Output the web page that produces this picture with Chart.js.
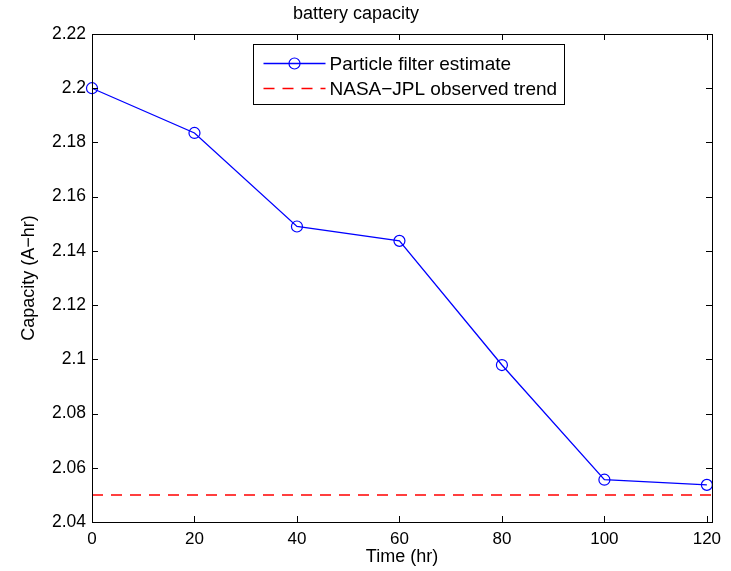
<!DOCTYPE html>
<html>
<head>
<meta charset="utf-8">
<script src="https://cdn.jsdelivr.net/npm/chart.js@4/dist/chart.umd.min.js"></script>
<style>
  html, body { margin: 0; padding: 0; background: #fff; }
  #wrap { width: 731px; height: 571px; }
</style>
</head>
<body>
<div id="wrap"><canvas id="c" width="731" height="571"></canvas></div>
<script>
// ---- data ----
const timeHr = [0, 20, 40, 60, 80, 100, 120];
const pfEstimate = [2.200, 2.1835, 2.149, 2.1437, 2.0979, 2.0556, 2.0537];
const trendTime = [0, 121];
const trendCapacity = [2.05, 2.05];
const xTicks = [0, 20, 40, 60, 80, 100, 120];
const yTicks = [2.04, 2.06, 2.08, 2.10, 2.12, 2.14, 2.16, 2.18, 2.20, 2.22];
const xRange = [0, 121];
const yRange = [2.04, 2.22];

const FONT = "'Liberation Sans', Arial, Helvetica, sans-serif";

const bgPlugin = {
  id: 'bg',
  beforeDraw(chart) {
    const ctx = chart.ctx;
    ctx.save();
    ctx.fillStyle = '#fff';
    ctx.fillRect(0, 0, chart.width, chart.height);
    ctx.restore();
  }
};

const boxPlugin = {
  id: 'matlabBox',
  afterDatasetsDraw(chart) {
    const ctx = chart.ctx;
    const a = chart.chartArea;
    const xs = chart.scales.x, ys = chart.scales.y;
    const tl = 6;
    ctx.save();
    ctx.strokeStyle = '#000';
    ctx.lineWidth = 1;
    ctx.beginPath();
    xs.ticks.forEach(t => {
      const px = Math.round(xs.getPixelForValue(t.value)) + 0.5;
      ctx.moveTo(px, a.bottom); ctx.lineTo(px, a.bottom - tl);
      ctx.moveTo(px, a.top); ctx.lineTo(px, a.top + tl);
    });
    ys.ticks.forEach(t => {
      const py = Math.round(ys.getPixelForValue(t.value)) + 0.5;
      ctx.moveTo(a.left, py); ctx.lineTo(a.left + tl, py);
      ctx.moveTo(a.right, py); ctx.lineTo(a.right - tl, py);
    });
    ctx.stroke();
    ctx.strokeRect(Math.round(a.left) + 0.5, Math.round(a.top) + 0.5,
                   Math.round(a.right - a.left), Math.round(a.bottom - a.top));
    ctx.restore();
  }
};

const legendPlugin = {
  id: 'boxLegend',
  afterDraw(chart) {
    const ctx = chart.ctx;
    const a = chart.chartArea;
    const L = Math.round(a.left + 161) + 0.5;
    const T = Math.round(a.top + 10) + 0.5;
    const W = 311, H = 60;
    ctx.save();
    ctx.fillStyle = '#fff';
    ctx.fillRect(L, T, W, H);
    ctx.strokeStyle = '#000';
    ctx.lineWidth = 1;
    ctx.strokeRect(L, T, W, H);
    const rows = [T + 19, T + 44];
    chart.data.datasets.forEach((ds, i) => {
      const y = rows[i];
      const x0 = L + 10, x1 = L + 72;
      ctx.strokeStyle = ds.borderColor;
      ctx.lineWidth = ds.borderWidth;
      ctx.setLineDash(ds.borderDash || []);
      ctx.beginPath();
      ctx.moveTo(x0, y); ctx.lineTo(x1, y);
      ctx.stroke();
      ctx.setLineDash([]);
      if (ds.pointRadius > 0) {
        ctx.beginPath();
        ctx.arc((x0 + x1) / 2, y, ds.pointRadius, 0, Math.PI * 2);
        ctx.lineWidth = ds.pointBorderWidth;
        ctx.stroke();
      }
      ctx.fillStyle = '#000';
      ctx.font = '19px ' + FONT;
      ctx.textBaseline = 'middle';
      ctx.textAlign = 'left';
      ctx.fillText(ds.label, L + 76, y + 1);
    });
    ctx.restore();
  }
};

const fmt = v => String(Number(v.toFixed(2)));

new Chart(document.getElementById('c'), {
  type: 'line',
  data: {
    datasets: [
      {
        label: 'Particle filter estimate',
        data: timeHr.map((t, i) => ({ x: t, y: pfEstimate[i] })),
        borderColor: 'rgb(0,0,255)',
        borderWidth: 1.3,
        pointRadius: 5.5,
        pointBorderWidth: 1.2,
        pointBackgroundColor: 'rgba(0,0,0,0)',
        pointBorderColor: 'rgb(0,0,255)',
        pointStyle: 'circle',
        fill: false,
        tension: 0,
        clip: false
      },
      {
        label: 'NASA\u2212JPL observed trend',
        data: trendTime.map((t, i) => ({ x: t, y: trendCapacity[i] })),
        borderColor: 'rgb(255,0,0)',
        borderWidth: 1.5,
        borderDash: [11, 8],
        pointRadius: 0,
        fill: false,
        tension: 0
      }
    ]
  },
  options: {
    responsive: false,
    animation: false,
    events: [],
    layout: { padding: { left: 0, right: 19, top: 0, bottom: 0 } },
    plugins: {
      legend: { display: false },
      tooltip: { enabled: false },
      title: {
        display: true,
        text: 'battery capacity',
        color: '#000',
        font: { family: FONT, size: 18, weight: 'normal' },
        padding: { top: 3, bottom: 9.4 }
      }
    },
    scales: {
      x: {
        type: 'linear',
        min: xRange[0],
        max: xRange[1],
        afterBuildTicks: s => { s.ticks = xTicks.map(v => ({ value: v })); },
        afterFit: s => { s.height = 49; },
        grid: { display: false, drawTicks: false },
        border: { display: false },
        ticks: {
          color: '#000',
          padding: 7,
          maxRotation: 0,
          autoSkip: false,
          font: { family: FONT, size: 17 },
          callback: v => String(v)
        },
        title: {
          display: true,
          text: 'Time (hr)',
          color: '#000',
          font: { family: FONT, size: 18 },
          padding: { top: 0, bottom: 3 }
        }
      },
      y: {
        type: 'linear',
        min: yRange[0],
        max: yRange[1],
        afterBuildTicks: s => { s.ticks = yTicks.map(v => ({ value: v })); },
        afterFit: s => { s.width = 92; },
        grid: { display: false, drawTicks: false },
        border: { display: false },
        ticks: {
          color: '#000',
          padding: 6,
          autoSkip: false,
          font: { family: FONT, size: 17.5 },
          callback: v => fmt(v)
        },
        title: {
          display: true,
          text: 'Capacity (A\u2212hr)',
          color: '#000',
          font: { family: FONT, size: 18 },
          padding: { top: 18, bottom: 0 }
        }
      }
    }
  },
  plugins: [bgPlugin, boxPlugin, legendPlugin]
});
</script>
</body>
</html>
